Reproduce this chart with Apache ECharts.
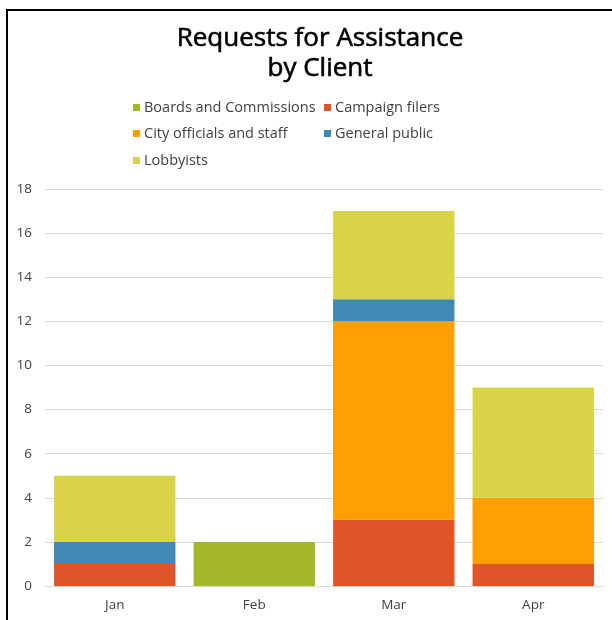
<!DOCTYPE html>
<html><head><meta charset="utf-8">
<script src="https://cdn.jsdelivr.net/npm/echarts@6/dist/echarts.min.js"></script>
<style>
html,body{margin:0;padding:0;background:#fff;}
#frame{position:absolute;left:6px;top:9px;width:700px;height:700px;border-left:2px solid #000;border-top:2px solid #000;}
#c{position:absolute;left:0;top:0;width:612px;height:620px;}
</style></head>
<body>
<div id="frame"></div>
<div id="c"></div>
<script>
const categories = ['Jan','Feb','Mar','Apr'];
const seriesNames = ['Boards and Commissions','Campaign filers','City officials and staff','General public','Lobbyists'];
const boards   = [0, 2, 0, 0];
const campaign = [1, 0, 3, 1];
const city     = [0, 0, 9, 3];
const general  = [1, 0, 1, 0];
const lobby    = [3, 0, 4, 5];
const colors = ['#a5b82a','#e05527','#ff9f00','#3f89b4','#d9d347'];
const values = [boards, campaign, city, general, lobby];

const font = 'Open Sans';
const legendPos = [[128,95],[319,95],[128,121],[319,121],[128,148]];
const chart = echarts.init(document.getElementById('c'));
chart.setOption({
  animation:false,
  title:{text:'Requests for Assistance\nby Client', left:315, top:19, textAlign:'center',
    textStyle:{fontFamily:font, fontSize:26, fontWeight:'normal', color:'#000', lineHeight:30,
      textBorderColor:'#000', textBorderWidth:0.6}},
  legend: seriesNames.map((n,i)=>({data:[n], left:legendPos[i][0], top:legendPos[i][1], itemWidth:7, itemHeight:7, itemGap:4,
    icon:'rect', textStyle:{fontFamily:font, fontSize:14.5, color:'#404040', padding:[0,0,0,-1]}})),
  grid:{left:45, right:9, top:189, bottom:34},
  xAxis:{type:'category', data:categories,
    axisLine:{lineStyle:{color:'#d9d9d9', width:1}}, axisTick:{show:false},
    axisLabel:{fontFamily:font, fontSize:13.5, color:'#404040', margin:12}},
  yAxis:{type:'value', min:0, max:18, interval:2,
    axisLine:{show:false}, axisTick:{show:false},
    splitLine:{lineStyle:{color:'#d9d9d9', width:1}},
    axisLabel:{fontFamily:font, fontSize:13.5, color:'#404040', margin:13}},
  series: seriesNames.map((n,i)=>({name:n, type:'bar', stack:'a', data:values[i].map(v=>v===0?null:v),
    barCategoryGap:'13%', itemStyle:{color:colors[i]}}))
});
</script>
</body></html>
